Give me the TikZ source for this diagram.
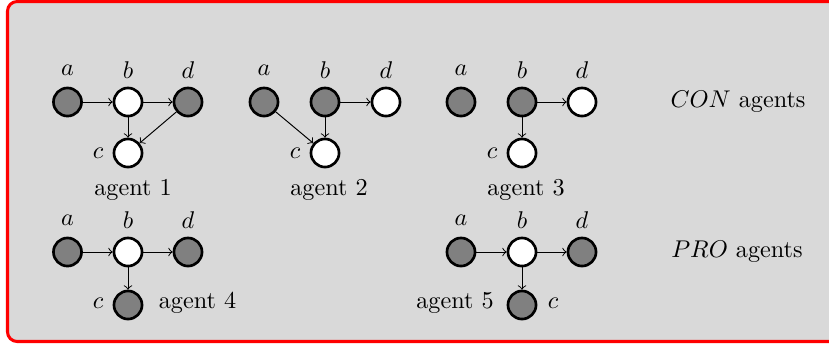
\documentclass[tikz,border=0pt]{standalone}
\usetikzlibrary{arrows}
\begin{document}
\begin{tikzpicture}[x=0.4132pt,y=-0.4132pt,
  agent/.style={circle,draw=black,line width=1.1pt,minimum size=11.6pt,inner sep=0pt},
  filledagent/.style={agent,fill=black!50},
  openagent/.style={agent,fill=white},
  edge/.style={->,thin},
  lbl/.style={inner sep=0pt}]
\useasboundingbox (0,0) rectangle (829,343);
% framed panel, running off the right edge
\fill[black!15,rounded corners=4pt] (845,1.5) -- (7.5,1.5) -- (7.5,341.5) -- (845,341.5) -- cycle;
\draw[red,line width=1.25pt,rounded corners=4pt] (835,1.5) -- (7.5,1.5) -- (7.5,341.5) -- (835,341.5);

% agent 1
\node[filledagent] (a1) at (67.5,102) {};
\node[openagent] (b1) at (128,102) {};
\node[filledagent] (d1) at (188,102) {};
\node[openagent] (c1) at (128,153) {};
\draw[edge] (a1) -- (b1);
\draw[edge] (b1) -- (d1);
\draw[edge] (b1) -- (c1);
\draw[edge] (d1) -- (c1);
\node[lbl] at (67.5,70) {$a$};
\node[lbl] at (128,70) {$b$};
\node[lbl] at (188,70) {$d$};
\node[lbl] at (98,153) {$c$};
\node[lbl] at (133,190) {agent 1};

% agent 2
\node[filledagent] (a2) at (264,102) {};
\node[filledagent] (b2) at (325,102) {};
\node[openagent] (d2) at (386,102) {};
\node[openagent] (c2) at (325,153) {};
\draw[edge] (a2) -- (c2);
\draw[edge] (b2) -- (c2);
\draw[edge] (b2) -- (d2);
\node[lbl] at (264,70) {$a$};
\node[lbl] at (325,70) {$b$};
\node[lbl] at (386,70) {$d$};
\node[lbl] at (295,153) {$c$};
\node[lbl] at (329,190) {agent 2};

% agent 3
\node[filledagent] (a3) at (461,102) {};
\node[filledagent] (b3) at (522,102) {};
\node[openagent] (d3) at (582,102) {};
\node[openagent] (c3) at (522,153) {};
\draw[edge] (b3) -- (d3);
\draw[edge] (b3) -- (c3);
\node[lbl] at (461,70) {$a$};
\node[lbl] at (522,70) {$b$};
\node[lbl] at (582,70) {$d$};
\node[lbl] at (492,153) {$c$};
\node[lbl] at (526,190) {agent 3};

\node[lbl] at (738,102) {$CON$ agents};

% agent 4
\node[filledagent] (a4) at (67.5,252) {};
\node[openagent] (b4) at (128,252) {};
\node[filledagent] (d4) at (188,252) {};
\node[filledagent] (c4) at (128,305) {};
\draw[edge] (a4) -- (b4);
\draw[edge] (b4) -- (d4);
\draw[edge] (b4) -- (c4);
\node[lbl] at (67.5,220) {$a$};
\node[lbl] at (128,220) {$b$};
\node[lbl] at (188,220) {$d$};
\node[lbl] at (98,303) {$c$};
\node[lbl] at (197.5,303) {agent 4};

% agent 5
\node[filledagent] (a5) at (461,252) {};
\node[openagent] (b5) at (522,252) {};
\node[filledagent] (d5) at (582,252) {};
\node[filledagent] (c5) at (522,305) {};
\draw[edge] (a5) -- (b5);
\draw[edge] (b5) -- (d5);
\draw[edge] (b5) -- (c5);
\node[lbl] at (461,220) {$a$};
\node[lbl] at (522,220) {$b$};
\node[lbl] at (582,220) {$d$};
\node[lbl] at (553,303) {$c$};
\node[lbl] at (455,303) {agent 5};

\node[lbl] at (737,252) {$PRO$ agents};
\end{tikzpicture}
\end{document}
